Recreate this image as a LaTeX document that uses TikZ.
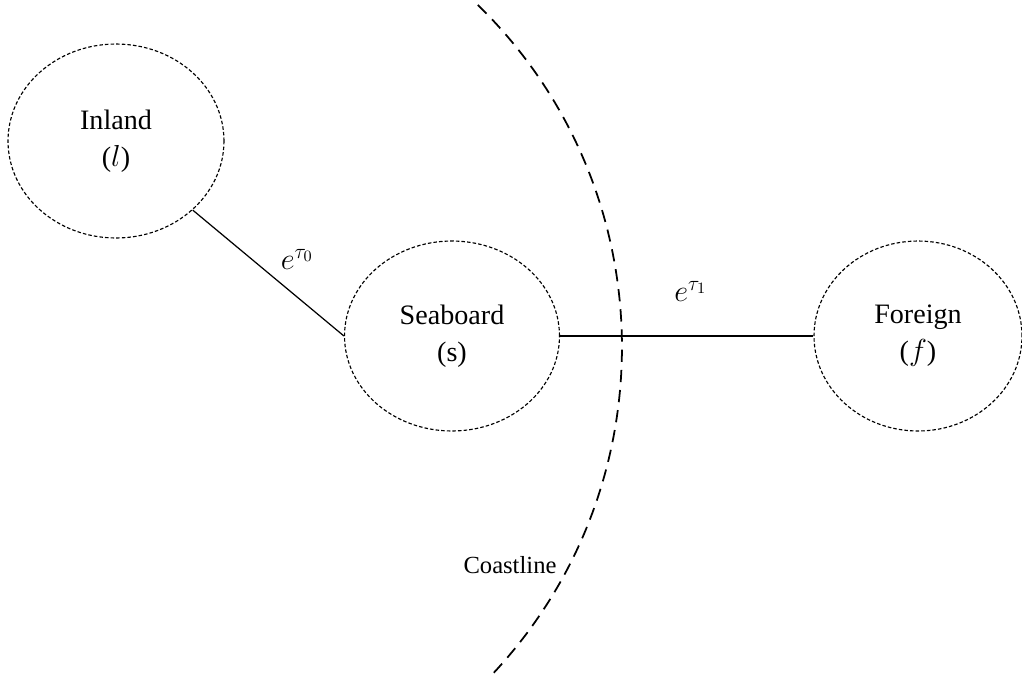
\documentclass[tikz,border=0pt]{standalone}
\usepackage{fontspec}
\setmainfont{Liberation Serif}
\usetikzlibrary{shapes.geometric}
\begin{document}
\begin{tikzpicture}[x=0.02cm,y=-0.02cm,
  region/.style={draw,ellipse,dash pattern=on 2pt off 1.2pt,line width=0.65pt,inner sep=0pt,align=center,font=\fontsize{16}{21}\selectfont},
  link/.style={line width=0.7pt},
  coast/.style={dash pattern=on 7pt off 4.5pt,line width=1pt}]
\useasboundingbox (0,0) rectangle (1022,684);
\node[region,minimum width=4.32cm,minimum height=3.88cm] (inland) at (116,141) {Inland\\($l$)};
\node[region,minimum width=4.30cm,minimum height=3.80cm] (seaboard) at (452,336) {Seaboard\\(s)};
\node[region,minimum width=4.16cm,minimum height=3.80cm] (foreign) at (918,336) {Foreign\\($f$)};
\draw[link] (inland.-42)-- node[midway,above right,xshift=0.12cm,yshift=-0.05cm,font=\fontsize{18}{22}\selectfont] {$e^{\tau_0}$} (seaboard.west); %ls
\draw[link] (seaboard.east)-- node[midway,above=0.57cm,xshift=0.08cm,font=\fontsize{18}{22}\selectfont] {$e^{\tau_1}$} (foreign.west); %sf
\coordinate (coastcentre) at (144,347);
\draw[coast] (coastcentre) ++(-45.7:478) arc[start angle=-45.7, end angle=43.8, radius=478];
\node[font=\fontsize{14}{17}\selectfont] (coastlabel) at (510,565) {Coastline};
\end{tikzpicture}
\end{document}
